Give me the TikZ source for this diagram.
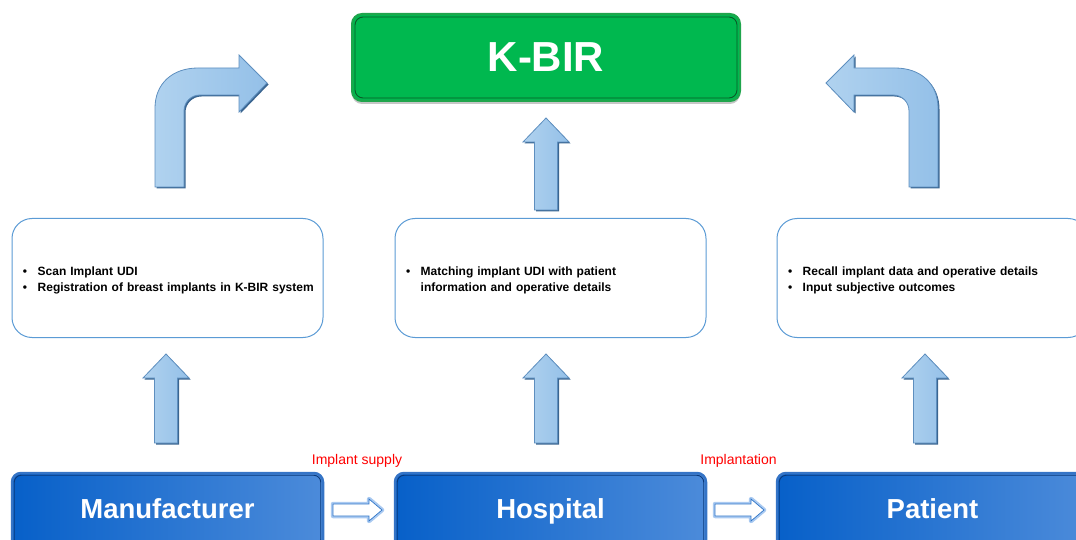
\documentclass[tikz,border=0pt]{standalone}
\usepackage{fontspec}
\setmainfont{Liberation Sans}
\usetikzlibrary{calc,shadows}
\definecolor{kgreen}{HTML}{00B84F}
\definecolor{kgreenrim}{HTML}{1FA54C}
\definecolor{kgreenline}{HTML}{0B5A27}
\definecolor{bl}{HTML}{0760C9}
\definecolor{br}{HTML}{4C8BDA}
\definecolor{blrim}{HTML}{3574C6}
\definecolor{blline}{HTML}{0A397A}
\definecolor{tbline}{HTML}{5B9BD5}
\definecolor{arrL}{HTML}{B0D2EF}
\definecolor{arrR}{HTML}{94C0E8}
\definecolor{arrEdge}{HTML}{5E8FBF}
\definecolor{arrShadow}{HTML}{3A6590}
\definecolor{glow}{HTML}{8DB8EC}
\definecolor{smallEdge}{HTML}{2F75C8}
\newcommand\blockup[3]{%
  \path[fill=arrShadow] (#1-11.5+1.5,#3+1.5) -- (#1-11.5+1.5,#2+24+1.5) -- (#1-23+1.5,#2+24+1.5) -- (#1+1.5,#2+1.5) -- (#1+23+1.5,#2+24+1.5) -- (#1+11.5+1.5,#2+24+1.5) -- (#1+11.5+1.5,#3+1.5) -- cycle;
  \path[barrow] (#1-11.5,#3) -- (#1-11.5,#2+24) -- (#1-23,#2+24) -- (#1,#2) -- (#1+23,#2+24) -- (#1+11.5,#2+24) -- (#1+11.5,#3) -- cycle;}
\newcommand\smallright[2]{%
  \path[glow] (#1,#2-6) -- (#1+36,#2-6) -- (#1+36,#2-11) -- (#1+49,#2) -- (#1+36,#2+11) -- (#1+36,#2+6) -- (#1,#2+6) -- cycle;
  \path[fill=white,draw=smallEdge,line width=0.7pt] (#1,#2-6) -- (#1+36,#2-6) -- (#1+36,#2-11) -- (#1+49,#2) -- (#1+36,#2+11) -- (#1+36,#2+6) -- (#1,#2+6) -- cycle;}
\newcommand\infotext[1]{\raisebox{-2pt}[\height][\depth]{\begin{tabular}{@{}l@{\hspace{10.5pt}}l@{}}#1\end{tabular}}}
\begin{document}
\begin{tikzpicture}[x=1pt,y=-1pt,
  kbirbox/.style={rounded corners=10pt, fill=kgreen, draw=kgreenrim, line width=2pt,
     minimum width=388pt, minimum height=87pt, text=white,
     font=\bfseries\fontsize{42}{48}\selectfont,
     drop shadow={shadow xshift=0pt, shadow yshift=-3pt, opacity=0.45}},
  actorbox/.style={rounded corners=9pt, left color=bl, right color=br, draw=blrim, line width=2.5pt,
     minimum width=311pt, minimum height=76pt, text=white, text height=20pt, text depth=6pt,
     font=\bfseries\fontsize{27.5}{32}\selectfont},
  infobox/.style={rounded corners=20pt, draw=tbline, line width=1pt, fill=white,
     minimum width=311pt, minimum height=119pt, inner xsep=11pt, text width=289pt, align=left,
     font=\bfseries\fontsize{12}{16}\selectfont},
  barrow/.style={left color=arrL, right color=arrR, draw=arrEdge, line width=0.8pt},
  glow/.style={draw=glow, line width=4.5pt, opacity=0.75, line join=round},
  lbl/.style={text=red, font=\fontsize{14}{16}\selectfont, inner sep=0pt}]
\useasboundingbox (0,0) rectangle (1076,540);

% top box
\node[kbirbox] (kbir) at (546,57.5) {K-BIR};
\draw[kgreenline, line width=0.9pt, rounded corners=8pt] ($(kbir.north west)+(4,4)$) rectangle ($(kbir.south east)+(-4,-4)$);

% info boxes
\node[infobox] (tb1) at (167.5,278) {\infotext{\textbullet & Scan Implant UDI\\ \textbullet & Registration of breast implants in K-BIR system}};
\node[infobox] (tb2) at (550.5,278) {\infotext{\textbullet & Matching implant UDI with patient\\ & information and operative details}};
\node[infobox] (tb3) at (932.5,278) {\infotext{\textbullet & Recall implant data and operative details\\ \textbullet & Input subjective outcomes}};

% actor boxes
\node[actorbox] (manu) at (167.5,511) {Manufacturer};
\node[actorbox] (hosp) at (550.5,511) {Hospital};
\node[actorbox] (pat) at (932.5,511) {Patient};
\foreach \n in {manu,hosp,pat}
  \draw[blline, line width=0.9pt, rounded corners=7pt] ($(\n.north west)+(3.5,3.5)$) rectangle ($(\n.south east)+(-3.5,-3.5)$);

% labels
\node[lbl] (lsup) at (357,461) {Implant supply};
\node[lbl] (limp) at (738.5,461) {Implantation};

% small white arrows
\smallright{333}{510}
\smallright{715}{510}

% straight up arrows
\blockup{546}{118}{210}
\blockup{166}{354}{443}
\blockup{546}{354}{443}
\blockup{925}{354}{443}

% bent arrows
\path[fill=arrShadow] (156.5,188.5) -- (156.5,109.5) .. controls (156.5,85.5) and (173.5,69.5) .. (199.5,69.5) -- (240.5,69.5) -- (240.5,56.5) -- (268.5,84.5) -- (240.5,113.5) -- (240.5,96.5) -- (201.5,96.5) .. controls (192.5,96.5) and (185.5,103.5) .. (185.5,112.5) -- (185.5,188.5) -- cycle;
\path[barrow] (155,187) -- (155,108) .. controls (155,84) and (172,68) .. (198,68) -- (239,68) -- (239,55) -- (267,83) -- (239,112) -- (239,95) -- (200,95) .. controls (191,95) and (184,102) .. (184,111) -- (184,187) -- cycle;

\path[fill=arrShadow] (939.5,188.5) -- (939.5,109.5) .. controls (939.5,85.5) and (922.5,69.5) .. (896.5,69.5) -- (855.5,69.5) -- (855.5,56.5) -- (827.5,84.5) -- (855.5,113.5) -- (855.5,96.5) -- (894.5,96.5) .. controls (903.5,96.5) and (910.5,103.5) .. (910.5,112.5) -- (910.5,188.5) -- cycle;
\path[barrow] (938,187) -- (938,108) .. controls (938,84) and (921,68) .. (895,68) -- (854,68) -- (854,55) -- (826,83) -- (854,112) -- (854,95) -- (893,95) .. controls (902,95) and (909,102) .. (909,111) -- (909,187) -- cycle;
\end{tikzpicture}
\end{document}
